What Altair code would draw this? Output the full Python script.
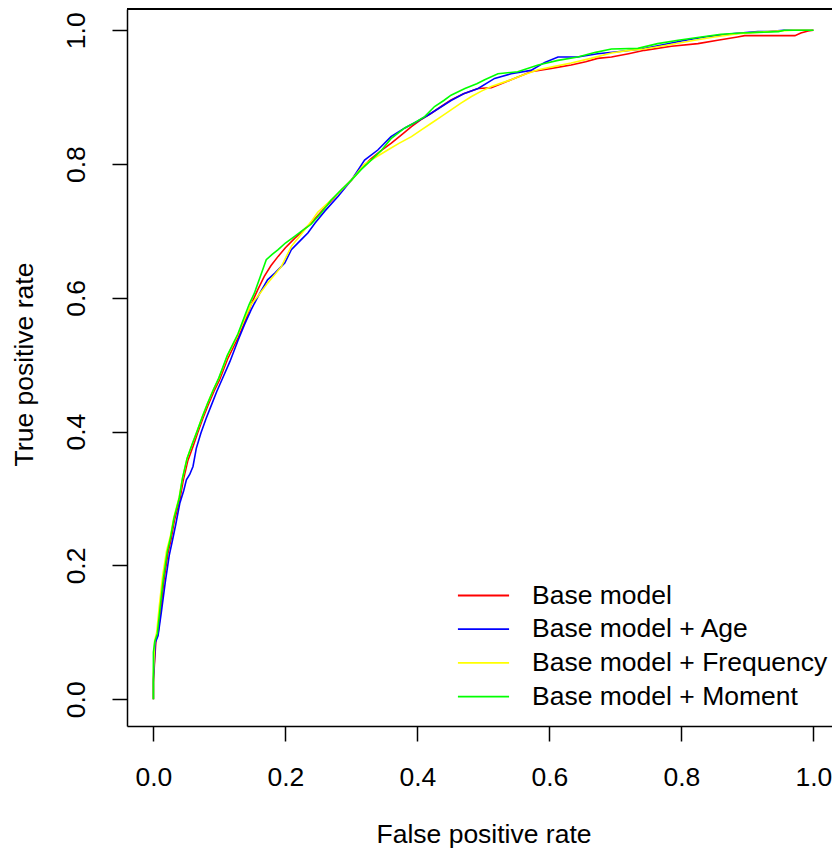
import altair as alt
import pandas as pd

models = ["Base model", "Base model + Age", "Base model + Frequency", "Base model + Moment"]
colors = ["#FF0000", "#0000FF", "#FFFF00", "#00FF00"]

x_ticks = [0.0, 0.2, 0.4, 0.6, 0.8, 1.0]
y_ticks = [0.0, 0.2, 0.4, 0.6, 0.8, 1.0]

base_fpr = [0.0, 0.0, 0.002, 0.004, 0.007, 0.011, 0.016, 0.022, 0.027, 0.032, 0.040, 0.045, 0.052,
            0.060, 0.067, 0.075, 0.083, 0.092, 0.100, 0.113, 0.128, 0.138, 0.148, 0.158, 0.168,
            0.178, 0.189, 0.200, 0.214, 0.239, 0.260, 0.280, 0.300, 0.315, 0.330, 0.345, 0.360,
            0.375, 0.391, 0.405, 0.421, 0.436, 0.451, 0.470, 0.492, 0.512, 0.527, 0.542, 0.557,
            0.572, 0.603, 0.633, 0.655, 0.673, 0.694, 0.720, 0.744, 0.785, 0.825, 0.855, 0.885,
            0.896, 0.972, 0.981, 0.992, 1.0]
base_tpr = [0.0, 0.025, 0.060, 0.090, 0.097, 0.133, 0.178, 0.218, 0.240, 0.268, 0.298, 0.326, 0.356,
            0.378, 0.398, 0.420, 0.440, 0.461, 0.477, 0.510, 0.540, 0.563, 0.590, 0.612, 0.632,
            0.648, 0.662, 0.675, 0.689, 0.712, 0.735, 0.756, 0.776, 0.794, 0.808, 0.820, 0.831,
            0.843, 0.856, 0.866, 0.876, 0.886, 0.896, 0.905, 0.913, 0.914, 0.920, 0.926, 0.932,
            0.938, 0.943, 0.948, 0.953, 0.958, 0.960, 0.965, 0.970, 0.976, 0.980, 0.985, 0.990,
            0.992, 0.992, 0.996, 0.999, 1.0]

age_fpr = [0.0, 0.0, 0.003, 0.007, 0.012, 0.018, 0.024, 0.029, 0.034, 0.040, 0.046, 0.050, 0.055,
           0.060, 0.065, 0.072, 0.080, 0.088, 0.096, 0.104, 0.116, 0.128, 0.138, 0.148, 0.160,
           0.173, 0.184, 0.199, 0.209, 0.224, 0.234, 0.245, 0.260, 0.280, 0.300, 0.310, 0.320,
           0.340, 0.360, 0.381, 0.400, 0.416, 0.435, 0.451, 0.470, 0.492, 0.517, 0.542, 0.572,
           0.593, 0.613, 0.643, 0.673, 0.703, 0.740, 0.770, 0.800, 0.835, 0.880, 0.916, 0.931,
           0.955, 1.0]
age_tpr = [0.0, 0.030, 0.085, 0.095, 0.130, 0.175, 0.215, 0.238, 0.262, 0.293, 0.312, 0.328, 0.336,
           0.348, 0.375, 0.398, 0.420, 0.440, 0.460, 0.478, 0.505, 0.536, 0.560, 0.582, 0.605,
           0.627, 0.637, 0.652, 0.672, 0.687, 0.697, 0.712, 0.730, 0.752, 0.776, 0.791, 0.806,
           0.821, 0.841, 0.854, 0.864, 0.873, 0.885, 0.895, 0.905, 0.913, 0.928, 0.935, 0.940,
           0.952, 0.960, 0.960, 0.965, 0.968, 0.972, 0.978, 0.984, 0.990, 0.995, 0.998, 0.998,
           1.0, 1.0]

freq_fpr = [0.0, 0.0, 0.002, 0.005, 0.009, 0.014, 0.020, 0.026, 0.031, 0.039, 0.044, 0.051,
            0.059, 0.066, 0.074, 0.082, 0.091, 0.099, 0.112, 0.128, 0.138, 0.148, 0.158, 0.173,
            0.184, 0.194, 0.209, 0.224, 0.239, 0.249, 0.260, 0.280, 0.300, 0.320, 0.340, 0.355,
            0.372, 0.391, 0.406, 0.421, 0.436, 0.451, 0.466, 0.482, 0.497, 0.512, 0.527, 0.542,
            0.562, 0.583, 0.608, 0.633, 0.663, 0.694, 0.720, 0.744, 0.780, 0.820, 0.850, 0.886,
            0.930, 0.970, 1.0]
freq_tpr = [0.0, 0.040, 0.088, 0.100, 0.140, 0.185, 0.222, 0.245, 0.272, 0.302, 0.330, 0.360,
            0.382, 0.400, 0.422, 0.442, 0.463, 0.479, 0.513, 0.545, 0.568, 0.590, 0.602, 0.622,
            0.635, 0.647, 0.677, 0.695, 0.714, 0.728, 0.738, 0.756, 0.776, 0.800, 0.812, 0.821,
            0.831, 0.841, 0.851, 0.861, 0.871, 0.881, 0.891, 0.901, 0.909, 0.916, 0.921, 0.926,
            0.934, 0.941, 0.946, 0.951, 0.958, 0.966, 0.970, 0.972, 0.978, 0.985, 0.990, 0.995,
            0.998, 1.0, 1.0]

moment_fpr = [0.0, 0.0, 0.002, 0.006, 0.010, 0.015, 0.021, 0.026, 0.031, 0.039, 0.044, 0.051,
              0.059, 0.066, 0.074, 0.082, 0.091, 0.099, 0.112, 0.128, 0.138, 0.145, 0.153, 0.162,
              0.171, 0.180, 0.189, 0.200, 0.214, 0.225, 0.239, 0.255, 0.269, 0.285, 0.300, 0.315,
              0.330, 0.345, 0.360, 0.381, 0.396, 0.411, 0.426, 0.440, 0.451, 0.472, 0.490, 0.502,
              0.522, 0.552, 0.583, 0.613, 0.643, 0.670, 0.694, 0.734, 0.764, 0.795, 0.830, 0.860,
              0.891, 0.947, 0.956, 1.0]
moment_tpr = [0.0, 0.070, 0.086, 0.098, 0.135, 0.180, 0.220, 0.242, 0.270, 0.300, 0.330, 0.360,
              0.382, 0.400, 0.422, 0.442, 0.463, 0.480, 0.514, 0.546, 0.572, 0.590, 0.607, 0.632,
              0.657, 0.665, 0.672, 0.682, 0.692, 0.700, 0.710, 0.728, 0.746, 0.762, 0.776, 0.792,
              0.806, 0.820, 0.838, 0.854, 0.862, 0.871, 0.886, 0.895, 0.903, 0.913, 0.920, 0.926,
              0.935, 0.938, 0.948, 0.955, 0.960, 0.967, 0.972, 0.973, 0.980, 0.985, 0.990, 0.994,
              0.996, 0.998, 1.0, 1.0]

series = [(models[0], base_fpr, base_tpr), (models[1], age_fpr, age_tpr),
          (models[2], freq_fpr, freq_tpr), (models[3], moment_fpr, moment_tpr)]
rows = []
for k, (name, xs, ys) in enumerate(series):
    for i, (a, b) in enumerate(zip(xs, ys)):
        rows.append({"model": name, "fpr": a, "tpr": b, "idx": i, "layer": k})
df = pd.DataFrame(rows)

FONT = "Liberation Sans"
FS = 26.5
X_DOMAIN = [-0.04, 1.0282]
Y_DOMAIN = [-0.04, 1.0318]

xscale = alt.Scale(domain=X_DOMAIN, nice=False, zero=False)
yscale = alt.Scale(domain=Y_DOMAIN, nice=False, zero=False)

xaxis = alt.Axis(values=x_ticks, format=".1f", title="False positive rate", grid=False,
                 tickSize=15, labelPadding=44, labelBaseline="alphabetic",
                 titleX=356.5, titleY=116, titleBaseline="alphabetic", titleAlign="center",
                 labelFlush=False, labelOverlap=False)
yaxis = alt.Axis(values=y_ticks, format=".1f", title="True positive rate", grid=False,
                 tickSize=15, labelPadding=28, labelAngle=270, labelAlign="center",
                 labelBaseline="alphabetic", titleX=-95, titleY=355, titleAngle=270,
                 titleBaseline="alphabetic", titleAlign="center",
                 labelFlush=False, labelOverlap=False)

legend = alt.Legend(title=None, orient="none", legendX=339, legendY=569,
                    symbolType="M-1.55,0L1.55,0", symbolSize=1089, symbolStrokeWidth=1.8,
                    labelFontSize=FS, labelFont=FONT, labelColor="black", labelOffset=31,
                    rowPadding=2.7, padding=0, labelLimit=0)

lines = alt.Chart(df).mark_line(strokeWidth=1.6, clip=True).encode(
    x=alt.X("fpr:Q", scale=xscale, axis=xaxis),
    y=alt.Y("tpr:Q", scale=yscale, axis=yaxis),
    color=alt.Color("model:N", scale=alt.Scale(domain=models, range=colors), legend=legend),
    detail="layer:O",
    order="idx:Q",
)

top_rule = alt.Chart(df).mark_rule(color="black", strokeWidth=1.5).encode(
    y=alt.datum(Y_DOMAIN[1])
)

chart = alt.layer(lines, top_rule).properties(
    width=705, height=717,
    autosize=alt.AutoSizeParams(type="none"),
    padding={"left": 119, "top": 1, "right": 0, "bottom": 122},
).configure_view(stroke=None).configure_axis(
    labelFont=FONT, titleFont=FONT, labelFontSize=FS, titleFontSize=FS,
    labelColor="black", titleColor="black", titleFontWeight="normal",
    domainColor="black", tickColor="black", domainWidth=1.5, tickWidth=1.5,
)

chart.save("out.html", embed_options={"renderer": "svg", "actions": False})
